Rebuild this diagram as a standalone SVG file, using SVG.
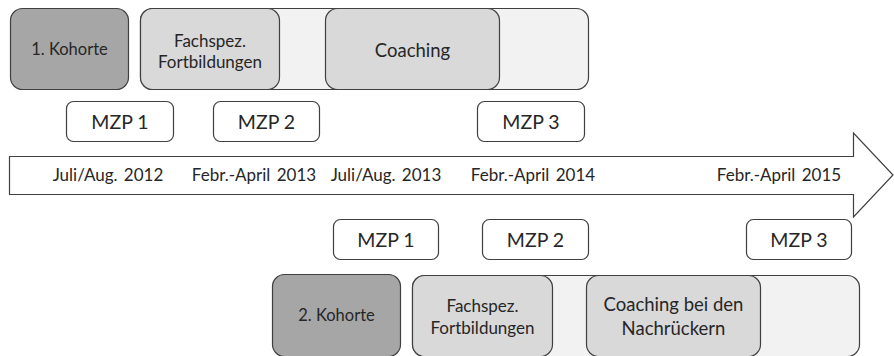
<svg xmlns="http://www.w3.org/2000/svg" width="894" height="356" viewBox="0 0 894 356">
  <style>
    .box { stroke: #404040; stroke-width: 1.2; }
    .dark { fill: #a6a6a6; }
    .mid { fill: #d9d9d9; }
    .light { fill: #f2f2f2; }
    .mzp { fill: #ffffff; }
    text { font-family: Lato, "Open Sans", sans-serif; fill: #262626; text-anchor: middle; }
    .kohorte { font-size: 16.5px; }
    .fach { font-size: 17px; }
    .coach { font-size: 18.5px; }
    .date { font-size: 17px; word-spacing: 2px; }
    .mzpt { font-size: 19.5px; }
  </style>

  <!-- timeline arrow -->
  <g id="timeline">
    <path class="box" fill="#ffffff" d="M9.5,156.5 H853.5 V133 L893,175 L853.5,217 V194.5 H9.5 Z"/>
    <text class="date" x="108" y="181">Juli/Aug. 2012</text>
    <text class="date" x="254" y="181">Febr.-April 2013</text>
    <text class="date" x="386" y="181">Juli/Aug. 2013</text>
    <text class="date" x="533" y="181">Febr.-April 2014</text>
    <text class="date" x="779" y="181">Febr.-April 2015</text>
  </g>

  <!-- cohort 1 -->
  <g id="phase1-bg"><rect class="box light" x="140.5" y="8.5" width="448" height="81" rx="12"/></g>
  <g id="kohorte1">
    <rect class="box dark" x="10.5" y="8.5" width="118" height="81" rx="12"/>
    <text class="kohorte" x="69.5" y="55">1. Kohorte</text>
  </g>
  <g id="fortbildung1">
    <rect class="box mid" x="140.5" y="8.5" width="139" height="81" rx="12"/>
    <text class="fach" x="210" y="47">Fachspez.</text>
    <text class="fach" x="210" y="68">Fortbildungen</text>
  </g>
  <g id="coaching1">
    <rect class="box mid" x="325.5" y="8.5" width="174" height="81" rx="12"/>
    <text class="coach" x="412.5" y="57">Coaching</text>
  </g>

  <g id="mzp1-top">
    <rect class="box mzp" x="66.5" y="101.5" width="107" height="40" rx="7"/>
    <text class="mzpt" x="120" y="129">MZP 1</text>
  </g>
  <g id="mzp2-top">
    <rect class="box mzp" x="213.5" y="101.5" width="106" height="40" rx="7"/>
    <text class="mzpt" x="266.5" y="129">MZP 2</text>
  </g>
  <g id="mzp3-top">
    <rect class="box mzp" x="477.5" y="101.5" width="107" height="40" rx="7"/>
    <text class="mzpt" x="531" y="129">MZP 3</text>
  </g>

  <!-- cohort 2 -->
  <g id="mzp1-bottom">
    <rect class="box mzp" x="333.5" y="219.5" width="105" height="40" rx="7"/>
    <text class="mzpt" x="386" y="247">MZP 1</text>
  </g>
  <g id="mzp2-bottom">
    <rect class="box mzp" x="482.5" y="219.5" width="106" height="40" rx="7"/>
    <text class="mzpt" x="535.5" y="247">MZP 2</text>
  </g>
  <g id="mzp3-bottom">
    <rect class="box mzp" x="746.5" y="219.5" width="105" height="40" rx="7"/>
    <text class="mzpt" x="799" y="247">MZP 3</text>
  </g>

  <g id="phase2-bg"><rect class="box light" x="412.5" y="275.5" width="447" height="81" rx="12"/></g>
  <g id="kohorte2">
    <rect class="box dark" x="272.5" y="274.5" width="128" height="82" rx="12"/>
    <text class="kohorte" x="336.5" y="321">2. Kohorte</text>
  </g>
  <g id="fortbildung2">
    <rect class="box mid" x="412.5" y="275.5" width="140" height="81" rx="12"/>
    <text class="fach" x="482.5" y="312">Fachspez.</text>
    <text class="fach" x="482.5" y="334">Fortbildungen</text>
  </g>
  <g id="coaching2">
    <rect class="box mid" x="586.5" y="275.5" width="174" height="81" rx="12"/>
    <text class="coach" x="673.5" y="311">Coaching bei den</text>
    <text class="coach" x="673.5" y="335">Nachrückern</text>
  </g>
</svg>
